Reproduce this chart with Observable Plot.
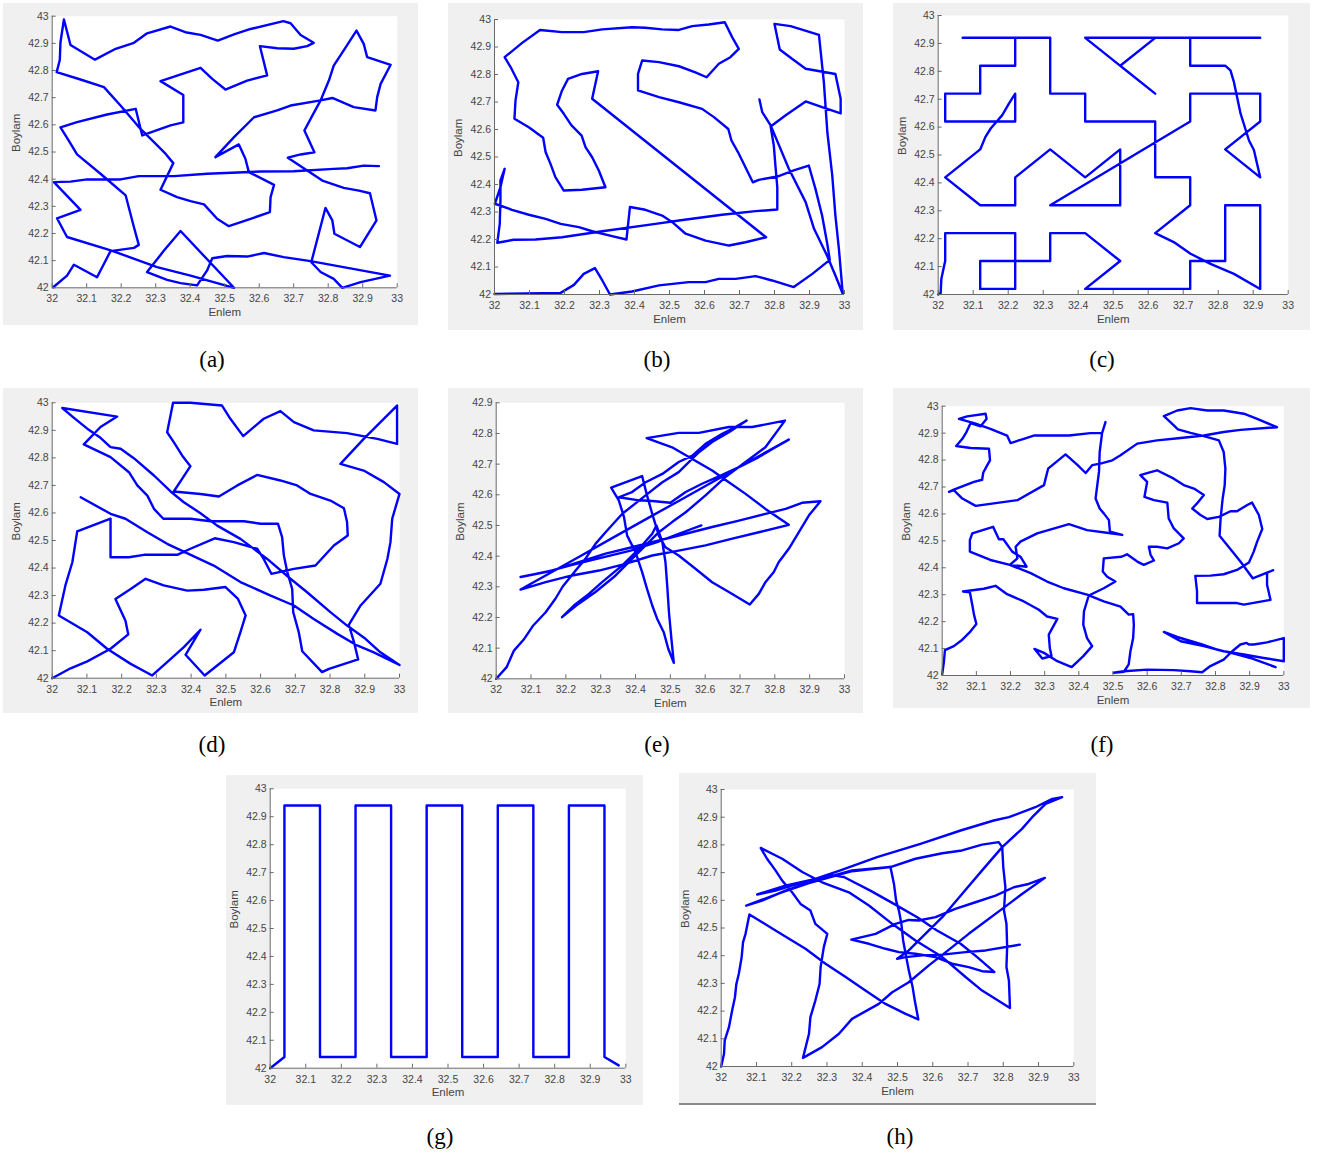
<!DOCTYPE html>
<html>
<head>
<meta charset="utf-8">
<script src="https://cdn.jsdelivr.net/npm/d3@7"></script>
<script src="https://cdn.jsdelivr.net/npm/@observablehq/plot@0.6"></script>
<style>
  html, body { margin: 0; padding: 0; background: #ffffff; }
  #root { position: relative; width: 1325px; height: 1158px; background: #ffffff; overflow: hidden; }
  .panel { position: absolute; background: #f0f0f0; }
  .panel svg { display: block; overflow: visible; }
  .cap { position: absolute; font-family: "Liberation Serif", "Times New Roman", serif; font-size: 23px; color: #000; transform: translate(-50%, -50%); white-space: nowrap; }
</style>
</head>
<body>
<div id="root"></div>
<script>
// ---------- tick values ----------
const xTicks = [32, 32.1, 32.2, 32.3, 32.4, 32.5, 32.6, 32.7, 32.8, 32.9, 33];
const yTicks = [42, 42.1, 42.2, 42.3, 42.4, 42.5, 42.6, 42.7, 42.8, 42.9, 43];
const yTicksE = [42, 42.1, 42.2, 42.3, 42.4, 42.5, 42.6, 42.7, 42.8, 42.9];
const xLabel = "Enlem";
const yLabel = "Boylam";
const captions = ["(a)", "(b)", "(c)", "(d)", "(e)", "(f)", "(g)", "(h)"];

// ---------- path data (Enlem, Boylam) ----------
const pathA = [[32.003,42.002],[32.043,42.045],[32.063,42.085],[32.130,42.039],[32.169,42.135],[32.237,42.147],[32.251,42.158],[32.237,42.223],[32.213,42.340],[32.140,42.420],[32.072,42.491],[32.048,42.542],[32.024,42.591],[32.072,42.610],[32.159,42.638],[32.242,42.659],[32.261,42.561],[32.343,42.598],[32.380,42.609],[32.380,42.710],[32.314,42.761],[32.430,42.810],[32.464,42.769],[32.502,42.730],[32.565,42.763],[32.623,42.782],[32.602,42.890],[32.652,42.882],[32.700,42.880],[32.739,42.890],[32.758,42.902],[32.720,42.931],[32.691,42.974],[32.670,42.982],[32.575,42.953],[32.527,42.933],[32.480,42.910],[32.430,42.931],[32.386,42.941],[32.343,42.962],[32.275,42.937],[32.237,42.902],[32.184,42.880],[32.124,42.840],[32.053,42.894],[32.034,42.988],[32.024,42.904],[32.022,42.839],[32.013,42.794],[32.082,42.767],[32.150,42.739],[32.198,42.671],[32.256,42.585],[32.295,42.536],[32.329,42.493],[32.351,42.459],[32.314,42.361],[32.362,42.334],[32.401,42.319],[32.440,42.307],[32.478,42.254],[32.512,42.227],[32.575,42.254],[32.631,42.279],[32.633,42.334],[32.643,42.379],[32.570,42.426],[32.560,42.475],[32.541,42.528],[32.473,42.481],[32.527,42.555],[32.585,42.628],[32.652,42.653],[32.691,42.671],[32.778,42.690],[32.812,42.699],[32.874,42.665],[32.937,42.653],[32.942,42.702],[32.952,42.751],[32.981,42.821],[32.913,42.849],[32.903,42.898],[32.882,42.947],[32.845,42.874],[32.816,42.818],[32.802,42.763],[32.778,42.690],[32.754,42.634],[32.731,42.579],[32.760,42.499],[32.720,42.491],[32.683,42.479],[32.739,42.432],[32.783,42.395],[32.845,42.368],[32.889,42.358],[32.921,42.348],[32.940,42.248],[32.892,42.150],[32.818,42.199],[32.812,42.248],[32.792,42.294],[32.751,42.094],[32.778,42.058],[32.816,42.033],[32.841,42.000],[32.894,42.021],[32.979,42.045],[32.749,42.098],[32.671,42.113],[32.614,42.128],[32.565,42.115],[32.507,42.117],[32.464,42.109],[32.449,42.064],[32.420,42.009],[32.372,42.017],[32.333,42.029],[32.275,42.058],[32.324,42.137],[32.372,42.209],[32.527,42.000],[32.401,42.045],[32.304,42.076],[32.172,42.137],[32.043,42.187],[32.014,42.256],[32.082,42.287],[32.005,42.389],[32.053,42.391],[32.101,42.399],[32.198,42.399],[32.251,42.411],[32.353,42.411],[32.449,42.420],[32.604,42.428],[32.700,42.429],[32.816,42.438],[32.855,42.440],[32.903,42.450],[32.947,42.448]];

const pathB = [[32.000,42.002],[32.189,42.006],[32.227,42.035],[32.255,42.075],[32.287,42.096],[32.308,42.051],[32.330,42.000],[32.393,42.011],[32.470,42.033],[32.555,42.045],[32.603,42.045],[32.641,42.057],[32.689,42.057],[32.746,42.067],[32.793,42.051],[32.855,42.027],[32.908,42.075],[32.958,42.126],[32.950,42.190],[32.936,42.287],[32.917,42.384],[32.898,42.469],[32.855,42.451],[32.808,42.429],[32.755,42.417],[32.738,42.408],[32.717,42.463],[32.698,42.512],[32.677,42.560],[32.668,42.602],[32.627,42.645],[32.593,42.675],[32.527,42.699],[32.470,42.718],[32.410,42.742],[32.410,42.802],[32.422,42.851],[32.470,42.845],[32.527,42.830],[32.574,42.808],[32.606,42.790],[32.641,42.839],[32.674,42.863],[32.698,42.893],[32.679,42.936],[32.658,42.990],[32.612,42.982],[32.565,42.976],[32.527,42.962],[32.479,42.964],[32.431,42.970],[32.393,42.972],[32.308,42.964],[32.255,42.954],[32.193,42.954],[32.130,42.962],[32.079,42.915],[32.029,42.863],[32.046,42.827],[32.068,42.772],[32.060,42.705],[32.057,42.639],[32.098,42.608],[32.139,42.570],[32.146,42.518],[32.160,42.475],[32.174,42.427],[32.198,42.378],[32.250,42.381],[32.317,42.390],[32.298,42.451],[32.279,42.499],[32.260,42.536],[32.249,42.578],[32.220,42.615],[32.198,42.657],[32.179,42.690],[32.193,42.742],[32.210,42.784],[32.250,42.802],[32.296,42.812],[32.279,42.712],[32.776,42.208],[32.717,42.190],[32.670,42.178],[32.603,42.196],[32.546,42.221],[32.508,42.263],[32.479,42.287],[32.431,42.308],[32.387,42.318],[32.377,42.200],[32.336,42.212],[32.279,42.230],[32.241,42.245],[32.189,42.257],[32.146,42.275],[32.098,42.290],[32.050,42.308],[32.001,42.330],[32.017,42.390],[32.029,42.457],[32.017,42.415],[32.017,42.342],[32.015,42.257],[32.008,42.188],[32.055,42.199],[32.117,42.200],[32.193,42.208],[32.308,42.230],[32.460,42.257],[32.527,42.269],[32.650,42.290],[32.746,42.303],[32.808,42.309],[32.808,42.390],[32.803,42.463],[32.798,42.542],[32.789,42.611],[32.831,42.651],[32.889,42.702],[32.936,42.681],[32.989,42.659],[32.989,42.712],[32.974,42.802],[32.889,42.821],[32.850,42.857],[32.815,42.891],[32.800,42.984],[32.846,42.976],[32.927,42.944],[32.941,42.772],[32.951,42.590],[32.965,42.433],[32.974,42.287],[32.984,42.166],[32.995,42.003],[32.974,42.069],[32.950,42.142],[32.913,42.239],[32.889,42.336],[32.841,42.457],[32.789,42.615],[32.765,42.663],[32.757,42.709]];

const pathC = [[32.000,42.000],[32.007,42.005],[32.009,42.056],[32.016,42.098],[32.02,42.12],[32.02,42.22],[32.22,42.22],[32.22,42.02],[32.12,42.02],[32.12,42.12],[32.32,42.12],[32.32,42.22],[32.42,42.22],[32.52,42.12],[32.42,42.02],[32.72,42.02],[32.72,42.12],[32.82,42.12],[32.82,42.32],[32.92,42.32],[32.92,42.02],[32.845,42.074],[32.778,42.110],[32.721,42.146],[32.673,42.188],[32.62,42.22],[32.72,42.32],[32.72,42.42],[32.62,42.42],[32.62,42.62],[32.42,42.62],[32.42,42.72],[32.32,42.72],[32.32,42.92],[32.07,42.92],[32.22,42.92],[32.22,42.82],[32.12,42.82],[32.12,42.72],[32.02,42.72],[32.02,42.62],[32.22,42.62],[32.22,42.72],[32.202,42.684],[32.183,42.643],[32.150,42.595],[32.135,42.565],[32.12,42.52],[32.02,42.42],[32.12,42.32],[32.22,42.32],[32.22,42.42],[32.32,42.52],[32.42,42.42],[32.52,42.52],[32.52,42.32],[32.32,42.32],[32.72,42.62],[32.72,42.72],[32.92,42.72],[32.92,42.62],[32.82,42.52],[32.92,42.42],[32.902,42.518],[32.888,42.552],[32.864,42.648],[32.845,42.761],[32.835,42.803],[32.82,42.82],[32.72,42.82],[32.72,42.92],[32.92,42.92],[32.42,42.92],[32.62,42.72],[32.52,42.82],[32.62,42.92]];

const pathD = [[32.000,42.000],[32.053,42.036],[32.101,42.061],[32.168,42.107],[32.219,42.159],[32.211,42.209],[32.182,42.288],[32.226,42.324],[32.269,42.361],[32.321,42.337],[32.389,42.318],[32.437,42.321],[32.499,42.331],[32.535,42.288],[32.557,42.228],[32.542,42.167],[32.523,42.094],[32.439,42.010],[32.384,42.085],[32.427,42.176],[32.379,42.113],[32.331,42.058],[32.288,42.010],[32.226,42.052],[32.158,42.107],[32.101,42.167],[32.019,42.228],[32.038,42.337],[32.058,42.421],[32.072,42.533],[32.168,42.579],[32.168,42.439],[32.221,42.439],[32.264,42.448],[32.360,42.448],[32.398,42.470],[32.468,42.508],[32.523,42.494],[32.590,42.470],[32.609,42.433],[32.631,42.379],[32.696,42.397],[32.758,42.409],[32.811,42.482],[32.851,42.518],[32.849,42.567],[32.840,42.617],[32.801,42.645],[32.744,42.669],[32.705,42.700],[32.657,42.718],[32.590,42.738],[32.533,42.700],[32.480,42.660],[32.427,42.669],[32.350,42.678],[32.374,42.724],[32.398,42.770],[32.374,42.809],[32.350,42.857],[32.331,42.893],[32.348,43.000],[32.398,43.000],[32.489,42.990],[32.513,42.942],[32.550,42.879],[32.609,42.942],[32.657,42.970],[32.696,42.930],[32.753,42.900],[32.849,42.890],[32.936,42.869],[32.993,42.851],[32.993,42.990],[32.897,42.869],[32.830,42.778],[32.897,42.754],[32.955,42.712],[33.000,42.669],[32.979,42.579],[32.974,42.494],[32.965,42.433],[32.945,42.343],[32.888,42.264],[32.854,42.194],[32.869,42.131],[32.881,42.068],[32.797,42.034],[32.777,42.022],[32.720,42.098],[32.710,42.167],[32.694,42.240],[32.691,42.324],[32.677,42.385],[32.667,42.446],[32.662,42.512],[32.650,42.561],[32.600,42.561],[32.552,42.570],[32.456,42.570],[32.398,42.579],[32.320,42.579],[32.293,42.615],[32.274,42.663],[32.245,42.700],[32.221,42.748],[32.168,42.803],[32.091,42.849],[32.139,42.912],[32.187,42.950],[32.029,42.981],[32.060,42.948],[32.101,42.906],[32.139,42.873],[32.168,42.839],[32.197,42.833],[32.235,42.799],[32.293,42.736],[32.341,42.678],[32.379,42.639],[32.427,42.599],[32.475,42.554],[32.542,42.506],[32.619,42.433],[32.686,42.361],[32.734,42.312],[32.801,42.240],[32.849,42.191],[32.902,42.143],[32.945,42.094],[33.000,42.048],[32.926,42.094],[32.878,42.119],[32.821,42.161],[32.753,42.215],[32.696,42.264],[32.629,42.300],[32.542,42.349],[32.465,42.409],[32.331,42.488],[32.274,42.530],[32.211,42.579],[32.168,42.597],[32.082,42.657]];

const pathE = [[32.000,42.000],[32.030,42.038],[32.051,42.092],[32.079,42.128],[32.105,42.172],[32.142,42.217],[32.170,42.261],[32.191,42.301],[32.228,42.353],[32.256,42.391],[32.285,42.440],[32.314,42.478],[32.362,42.538],[32.429,42.598],[32.477,42.641],[32.524,42.674],[32.582,42.739],[32.620,42.772],[32.668,42.804],[32.719,42.842],[32.687,42.821],[32.649,42.799],[32.601,42.766],[32.563,42.728],[32.524,42.707],[32.477,42.668],[32.429,42.641],[32.390,42.609],[32.352,42.592],[32.410,42.582],[32.448,42.580],[32.500,42.574],[32.544,42.609],[32.591,42.636],[32.649,42.665],[32.697,42.690],[32.754,42.723],[32.802,42.755],[32.840,42.780],[32.716,42.702],[32.620,42.641],[32.524,42.580],[32.429,42.520],[32.352,42.471],[32.237,42.397],[32.142,42.337],[32.070,42.291],[32.142,42.315],[32.218,42.337],[32.295,42.353],[32.371,42.375],[32.448,42.402],[32.524,42.418],[32.601,42.435],[32.678,42.457],[32.754,42.478],[32.840,42.502],[32.773,42.554],[32.716,42.603],[32.668,42.641],[32.620,42.679],[32.563,42.717],[32.505,42.755],[32.432,42.785],[32.524,42.802],[32.582,42.802],[32.668,42.821],[32.735,42.821],[32.829,42.842],[32.773,42.755],[32.716,42.707],[32.658,42.658],[32.601,42.598],[32.544,42.543],[32.505,42.511],[32.467,42.478],[32.429,42.435],[32.390,42.391],[32.343,42.337],[32.285,42.283],[32.237,42.245],[32.189,42.201],[32.223,42.239],[32.266,42.277],[32.304,42.315],[32.362,42.370],[32.410,42.424],[32.448,42.473],[32.460,42.500],[32.477,42.446],[32.486,42.380],[32.491,42.304],[32.496,42.217],[32.503,42.130],[32.510,42.052],[32.494,42.098],[32.481,42.152],[32.462,42.196],[32.448,42.239],[32.433,42.293],[32.419,42.348],[32.400,42.413],[32.376,42.467],[32.367,42.527],[32.352,42.582],[32.330,42.623],[32.419,42.661],[32.433,42.598],[32.448,42.538],[32.467,42.467],[32.486,42.429],[32.524,42.402],[32.572,42.359],[32.620,42.315],[32.668,42.283],[32.728,42.242],[32.754,42.277],[32.773,42.315],[32.797,42.348],[32.811,42.380],[32.840,42.424],[32.869,42.478],[32.898,42.533],[32.931,42.579],[32.878,42.574],[32.831,42.554],[32.773,42.538],[32.697,42.516],[32.620,42.495],[32.544,42.473],[32.467,42.451],[32.390,42.429],[32.314,42.408],[32.237,42.380],[32.161,42.353],[32.113,42.342],[32.070,42.332],[32.142,42.348],[32.213,42.370],[32.309,42.397],[32.386,42.418],[32.462,42.446],[32.524,42.473],[32.589,42.500]];

const pathF = [[32.000,42.004],[32.005,42.051],[32.008,42.094],[32.034,42.109],[32.059,42.133],[32.083,42.164],[32.100,42.191],[32.093,42.226],[32.088,42.263],[32.081,42.309],[32.061,42.312],[32.122,42.322],[32.156,42.333],[32.190,42.302],[32.239,42.275],[32.283,42.244],[32.307,42.219],[32.337,42.210],[32.312,42.152],[32.315,42.102],[32.320,42.072],[32.293,42.063],[32.270,42.099],[32.298,42.084],[32.337,42.053],[32.379,42.031],[32.413,42.072],[32.439,42.109],[32.424,42.139],[32.413,42.189],[32.415,42.238],[32.429,42.297],[32.473,42.324],[32.507,42.349],[32.483,42.367],[32.470,42.386],[32.473,42.435],[32.525,42.441],[32.541,42.450],[32.571,42.423],[32.590,42.411],[32.620,42.427],[32.610,42.448],[32.605,42.478],[32.629,42.478],[32.659,42.472],[32.693,42.491],[32.707,42.509],[32.678,42.546],[32.668,42.571],[32.663,42.583],[32.659,42.642],[32.620,42.651],[32.592,42.663],[32.600,42.719],[32.580,42.744],[32.605,42.753],[32.629,42.762],[32.678,42.731],[32.707,42.707],[32.737,42.694],[32.766,42.670],[32.746,42.639],[32.732,42.620],[32.756,42.596],[32.776,42.581],[32.810,42.589],[32.844,42.610],[32.863,42.610],[32.893,42.633],[32.907,42.642],[32.927,42.596],[32.937,42.544],[32.922,42.497],[32.912,42.460],[32.898,42.420],[32.863,42.392],[32.824,42.376],[32.785,42.371],[32.741,42.370],[32.746,42.312],[32.746,42.269],[32.863,42.269],[32.883,42.263],[32.961,42.281],[32.951,42.337],[32.951,42.382],[32.969,42.391],[32.951,42.382],[32.909,42.361],[32.873,42.423],[32.834,42.485],[32.812,42.519],[32.815,42.583],[32.821,42.657],[32.827,42.707],[32.829,42.768],[32.824,42.830],[32.810,42.873],[32.766,42.889],[32.727,42.901],[32.690,42.914],[32.668,42.941],[32.649,42.963],[32.688,42.984],[32.727,42.993],[32.776,42.984],[32.824,42.984],[32.883,42.972],[32.922,42.953],[32.980,42.922],[32.873,42.912],[32.824,42.904],[32.766,42.891],[32.698,42.882],[32.629,42.873],[32.571,42.861],[32.522,42.818],[32.498,42.799],[32.463,42.787],[32.439,42.781],[32.420,42.752],[32.395,42.783],[32.361,42.821],[32.310,42.768],[32.298,42.707],[32.220,42.651],[32.151,42.639],[32.098,42.630],[32.059,42.657],[32.034,42.688],[32.020,42.682],[32.034,42.690],[32.093,42.719],[32.117,42.727],[32.120,42.753],[32.132,42.781],[32.140,42.799],[32.137,42.842],[32.083,42.845],[32.041,42.852],[32.059,42.879],[32.071,42.904],[32.083,42.937],[32.112,42.925],[32.130,42.953],[32.127,42.972],[32.073,42.962],[32.049,42.953],[32.098,42.935],[32.141,42.916],[32.190,42.891],[32.200,42.863],[32.239,42.879],[32.268,42.891],[32.371,42.891],[32.434,42.900],[32.468,42.900],[32.478,42.941],[32.468,42.900],[32.461,42.830],[32.459,42.756],[32.454,42.707],[32.449,42.657],[32.461,42.620],[32.473,42.602],[32.488,42.577],[32.491,42.534],[32.527,42.522],[32.493,42.528],[32.424,42.540],[32.371,42.562],[32.278,42.528],[32.229,42.497],[32.215,42.478],[32.220,42.435],[32.198,42.411],[32.247,42.404],[32.229,42.441],[32.205,42.460],[32.179,42.506],[32.166,42.506],[32.149,42.552],[32.088,42.528],[32.081,42.503],[32.081,42.460],[32.141,42.429],[32.198,42.411],[32.259,42.380],[32.307,42.349],[32.356,42.324],[32.424,42.300],[32.473,42.275],[32.522,42.256],[32.546,42.226],[32.559,42.228],[32.561,42.189],[32.559,42.139],[32.551,42.090],[32.546,42.041],[32.532,42.014],[32.502,42.010],[32.532,42.016],[32.600,42.022],[32.678,42.020],[32.727,42.016],[32.761,42.012],[32.785,42.035],[32.824,42.059],[32.849,42.090],[32.873,42.115],[32.891,42.121],[32.898,42.115],[32.912,42.115],[32.951,42.123],[33.000,42.139],[33.000,42.053],[32.941,42.065],[32.883,42.078],[32.824,42.090],[32.766,42.109],[32.698,42.127],[32.649,42.162],[32.688,42.143],[32.756,42.117],[32.805,42.096],[32.854,42.081],[32.902,42.065],[32.976,42.031]];

const pathG = [[32.00,42.00],[32.04,42.04],[32.04,42.94],[32.14,42.94],[32.14,42.04],[32.24,42.04],[32.24,42.94],[32.34,42.94],[32.34,42.04],[32.44,42.04],[32.44,42.94],[32.54,42.94],[32.54,42.04],[32.64,42.04],[32.64,42.94],[32.74,42.94],[32.74,42.04],[32.84,42.04],[32.84,42.94],[32.94,42.94],[32.94,42.04],[32.98,42.01]];

const pathH = [[32.000,42.000],[32.008,42.046],[32.010,42.094],[32.022,42.142],[32.031,42.202],[32.039,42.250],[32.043,42.298],[32.050,42.335],[32.058,42.395],[32.062,42.449],[32.069,42.479],[32.080,42.549],[32.154,42.491],[32.239,42.425],[32.296,42.371],[32.353,42.323],[32.409,42.274],[32.466,42.226],[32.523,42.190],[32.559,42.170],[32.549,42.238],[32.543,42.286],[32.532,42.347],[32.523,42.407],[32.516,42.455],[32.511,42.515],[32.504,42.563],[32.496,42.599],[32.490,42.659],[32.480,42.720],[32.371,42.708],[32.249,42.665],[32.182,42.635],[32.116,42.599],[32.071,42.581],[32.116,42.602],[32.182,42.633],[32.249,42.662],[32.371,42.705],[32.480,42.720],[32.551,42.750],[32.627,42.770],[32.683,42.780],[32.740,42.801],[32.787,42.810],[32.797,42.792],[32.800,42.720],[32.806,42.647],[32.802,42.563],[32.809,42.515],[32.811,42.431],[32.809,42.359],[32.816,42.310],[32.819,42.211],[32.740,42.274],[32.693,42.323],[32.627,42.395],[32.551,42.455],[32.485,42.515],[32.419,42.581],[32.362,42.629],[32.286,42.665],[32.230,42.702],[32.173,42.750],[32.112,42.789],[32.130,42.750],[32.154,42.708],[32.173,42.671],[32.201,42.629],[32.225,42.587],[32.253,42.563],[32.267,42.515],[32.301,42.479],[32.291,42.431],[32.282,42.359],[32.279,42.298],[32.267,42.238],[32.253,42.178],[32.249,42.118],[32.232,42.031],[32.286,42.070],[32.334,42.118],[32.371,42.172],[32.447,42.226],[32.485,42.268],[32.532,42.304],[32.589,42.365],[32.655,42.431],[32.702,42.479],[32.816,42.587],[32.853,42.623],[32.918,42.681],[32.872,42.659],[32.830,42.647],[32.778,42.617],[32.721,42.593],[32.664,42.569],[32.608,42.539],[32.560,42.527],[32.532,42.529],[32.494,42.515],[32.438,42.479],[32.369,42.458],[32.419,42.443],[32.466,42.425],[32.504,42.413],[32.551,42.407],[32.608,42.395],[32.655,42.371],[32.702,42.359],[32.740,42.344],[32.775,42.341],[32.726,42.395],[32.679,42.443],[32.612,42.491],[32.556,42.539],[32.490,42.587],[32.423,42.635],[32.348,42.684],[32.310,42.692],[32.230,42.665],[32.154,42.635],[32.102,42.621],[32.182,42.653],[32.267,42.677],[32.338,42.708],[32.442,42.756],[32.565,42.804],[32.679,42.852],[32.773,42.888],[32.816,42.900],[32.891,42.936],[32.939,42.966],[32.967,42.972],[32.920,42.948],[32.882,42.900],[32.853,42.858],[32.797,42.792],[32.740,42.708],[32.683,42.623],[32.627,42.539],[32.579,42.479],[32.532,42.419],[32.499,42.389],[32.523,42.395],[32.570,42.401],[32.627,42.404],[32.693,42.413],[32.750,42.419],[32.847,42.440]];

// ---------- layout (page pixels) ----------
const layouts = [
  {data: pathA, yd: [42, 43],   yt: yTicks,  left: 3,   top: 3,   right: 418,  bottom: 325,  px0: 51.7,  px1: 396.7,  py0: 15.7,  py1: 287.3, cx: 212, cy: 360},
  {data: pathB, yd: [42, 43],   yt: yTicks,  left: 448, top: 3,   right: 863,  bottom: 330,  px0: 494,   px1: 844,    py0: 19,    py1: 294,   cx: 657, cy: 360},
  {data: pathC, yd: [42, 43],   yt: yTicks,  left: 893, top: 3,   right: 1310, bottom: 330,  px0: 937.7, px1: 1287.7, py0: 15,    py1: 294,   cx: 1102, cy: 360},
  {data: pathD, yd: [42, 43],   yt: yTicks,  left: 3,   top: 388, right: 418,  bottom: 713,  px0: 51.7,  px1: 399,    py0: 402.3, py1: 677.7, cx: 212, cy: 745},
  {data: pathE, yd: [42, 42.9], yt: yTicksE, left: 448, top: 388, right: 863,  bottom: 713,  px0: 495.7, px1: 844,    py0: 402.3, py1: 678.3, cx: 657, cy: 745},
  {data: pathF, yd: [42, 43],   yt: yTicks,  left: 893, top: 388, right: 1310, bottom: 708,  px0: 941.7, px1: 1283.3, py0: 405.7, py1: 675,   cx: 1102, cy: 745},
  {data: pathG, yd: [42, 43],   yt: yTicks,  left: 226, top: 775, right: 643,  bottom: 1105, px0: 269.7, px1: 625.3,  py0: 788.3, py1: 1067.7, cx: 440, cy: 1137},
  {data: pathH, yd: [42, 43],   yt: yTicks,  left: 679, top: 773, right: 1096, bottom: 1103, px0: 720.7, px1: 1073.3, py0: 789,   py1: 1066,  cx: 900, cy: 1137, border: true}
];

const root = document.getElementById("root");
const fmt = d => String(+d.toFixed(1));
const axisColor = "#6a6a6a";

layouts.forEach((L, i) => {
  const W = L.right - L.left, H = L.bottom - L.top;
  const div = document.createElement("div");
  div.className = "panel";
  div.style.left = L.left + "px";
  div.style.top = L.top + "px";
  div.style.width = W + "px";
  div.style.height = H + "px";
  if (L.border) div.style.borderBottom = "2px solid #8a8a8a";
  const [y0, y1] = L.yd;
  const tickY = (y1 - y0) * 4 / (L.py1 - L.py0);
  const tickX = 4 / (L.px1 - L.px0);
  const chart = Plot.plot({
    width: W,
    height: H,
    marginLeft: L.px0 - L.left,
    marginRight: L.right - L.px1,
    marginTop: L.py0 - L.top,
    marginBottom: L.bottom - L.py1,
    x: {domain: [32, 33], axis: null},
    y: {domain: L.yd, axis: null},
    style: {background: "transparent", fontFamily: "'Liberation Sans', Arial, sans-serif", fontSize: "10.5px", color: "#454545", overflow: "visible"},
    marks: [
      Plot.frame({fill: "white", stroke: "none"}),
      Plot.line(L.data, {x: d => d[0], y: d => d[1], stroke: "#0000ff", strokeWidth: 2.4}),
      Plot.ruleY([y0], {stroke: axisColor}),
      Plot.ruleX([32], {stroke: axisColor}),
      Plot.ruleX(xTicks, {y1: y0, y2: y0 + tickY, stroke: axisColor}),
      Plot.ruleY(L.yt, {x1: 32, x2: 32 + tickX, stroke: axisColor}),
      Plot.axisX(xTicks, {tickSize: 0, tickPadding: 7, tickFormat: fmt, label: null, fill: "#454545"}),
      Plot.axisY(L.yt, {tickSize: 0, tickPadding: 3.5, tickFormat: fmt, label: null, fill: "#454545"}),
      Plot.text([xLabel], {frameAnchor: "bottom", dy: 28, fontSize: 11.5, fill: "#454545"}),
      Plot.text([yLabel], {frameAnchor: "left", dx: -36, rotate: -90, fontSize: 11.5, fill: "#454545"})
    ]
  });
  div.appendChild(chart);
  root.appendChild(div);

  const cap = document.createElement("div");
  cap.className = "cap";
  cap.textContent = captions[i];
  cap.style.left = L.cx + "px";
  cap.style.top = L.cy + "px";
  root.appendChild(cap);
});
</script>
</body>
</html>
